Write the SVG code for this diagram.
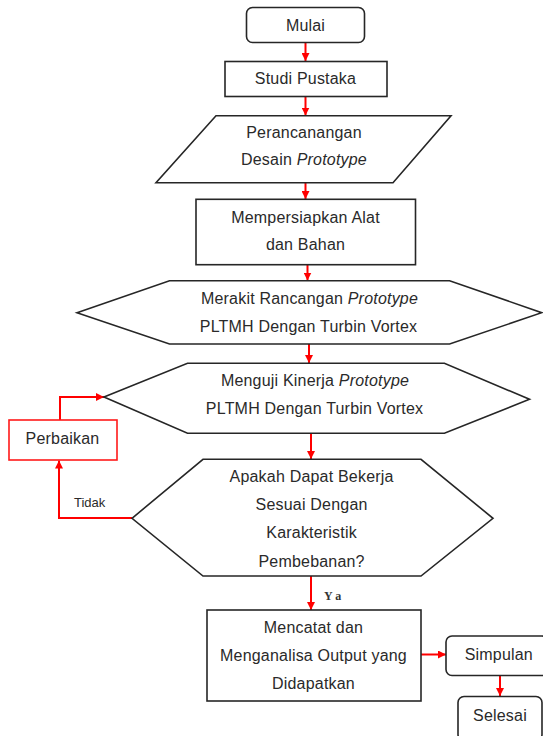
<svg xmlns="http://www.w3.org/2000/svg" width="543" height="736" viewBox="0 0 543 736">
<defs>
<style>
.sh{fill:#fff;stroke:#262626;stroke-width:1.6}
.rd{fill:#fff;stroke:#ff1a1a;stroke-width:1.6}
.t{font-family:"Liberation Sans",Arial,sans-serif;font-size:16px;fill:#2a2a2a;text-anchor:middle;letter-spacing:0.2px}
.i{font-style:italic}
.c{fill:none;stroke:#ff0000;stroke-width:2}
.lb{font-family:"Liberation Sans",Arial,sans-serif;font-size:13px;fill:#2a2a2a}
.ya{font-family:"Liberation Serif","Times New Roman",serif;font-size:12px;font-weight:bold;fill:#333;letter-spacing:4px}
</style>
<marker id="ah" markerUnits="userSpaceOnUse" markerWidth="8" markerHeight="8" viewBox="0 0 10 10" refX="10" refY="5" orient="auto">
<path d="M0,0 L10,5 L0,10 z" fill="#ff0000"/>
</marker>
</defs>
<rect width="543" height="736" fill="#fff"/>

<g id="connectors">
<path class="c" d="M305.5,42.5 V61" marker-end="url(#ah)"/>
<path class="c" d="M305.5,96.5 V115.5" marker-end="url(#ah)"/>
<path class="c" d="M305.5,183 V199" marker-end="url(#ah)"/>
<path class="c" d="M307.5,265 V280.5" marker-end="url(#ah)"/>
<path class="c" d="M309,344 V363" marker-end="url(#ah)"/>
<path class="c" d="M311,433.5 V459" marker-end="url(#ah)"/>
<path class="c" d="M311,576 V610" marker-end="url(#ah)"/>
<path class="c" d="M132,518 H59 V460.5" marker-end="url(#ah)"/>
<path class="c" d="M60,420 V397 H104" marker-end="url(#ah)"/>
<path class="c" d="M421,654.5 H446" marker-end="url(#ah)"/>
<path class="c" d="M500,676 V696" marker-end="url(#ah)"/>
<text class="lb" x="74" y="507">Tidak</text>
<text class="ya" x="324" y="600">Ya</text>
</g>

<g id="mulai">
<rect class="sh" x="246.5" y="7.5" width="118" height="35" rx="6"/>
<text class="t" x="305.5" y="30.5">Mulai</text>
</g>

<g id="studi">
<rect class="sh" x="225" y="61.5" width="162" height="35" stroke-width="2" stroke="#444"/>
<text class="t" x="305.5" y="83.5">Studi Pustaka</text>
</g>

<g id="perancangan">
<polygon class="sh" points="216,115.7 451,115.7 393,182.7 156,182.7"/>
<text class="t" x="304" y="138">Perancanangan</text>
<text class="t" x="304" y="165">Desain <tspan class="i">Prototype</tspan></text>
</g>

<g id="mempersiapkan">
<rect class="sh" x="196" y="199.3" width="219.5" height="65.4"/>
<text class="t" x="305.5" y="222.8">Mempersiapkan Alat</text>
<text class="t" x="305.5" y="249.5">dan Bahan</text>
</g>

<g id="merakit">
<polygon class="sh" points="77,312.7 169.5,280.7 449.6,280.7 541.7,312.7 449.6,344 169.5,344"/>
<text class="t" x="309.5" y="303.5">Merakit Rancangan <tspan class="i">Prototype</tspan></text>
<text class="t" x="308.5" y="332.2">PLTMH Dengan Turbin Vortex</text>
</g>

<g id="menguji">
<polygon class="sh" points="104,397 187.5,363.3 444.4,363.3 529.5,399.3 444.4,433.3 187.5,433.3"/>
<text class="t" x="315" y="386.2">Menguji Kinerja <tspan class="i">Prototype</tspan></text>
<text class="t" x="314.6" y="413.8">PLTMH Dengan Turbin Vortex</text>
</g>

<g id="perbaikan">
<rect class="rd" x="9" y="420" width="108" height="40"/>
<text class="t" x="62.5" y="443.5">Perbaikan</text>
</g>

<g id="keputusan">
<polygon class="sh" points="132,518.3 203,459.3 421,459.3 493,518.3 421,576 203,576"/>
<text class="t" x="311.6" y="482.2">Apakah Dapat Bekerja</text>
<text class="t" x="311.6" y="509.8">Sesuai Dengan</text>
<text class="t" x="311.6" y="538.2">Karakteristik</text>
<text class="t" x="311.6" y="567.2">Pembebanan?</text>
</g>

<g id="mencatat">
<rect class="sh" x="207" y="610" width="214" height="91"/>
<text class="t" x="313.5" y="632.8">Mencatat dan</text>
<text class="t" x="313.5" y="660.5">Menganalisa Output yang</text>
<text class="t" x="313.5" y="688.8">Didapatkan</text>
</g>

<g id="simpulan">
<rect class="sh" x="446" y="636" width="102" height="39.5" rx="6"/>
<text class="t" x="498.8" y="660">Simpulan</text>
</g>

<g id="selesai">
<rect class="sh" x="458" y="696.5" width="84" height="44" rx="6"/>
<text class="t" x="500" y="720.5">Selesai</text>
</g>
</svg>
